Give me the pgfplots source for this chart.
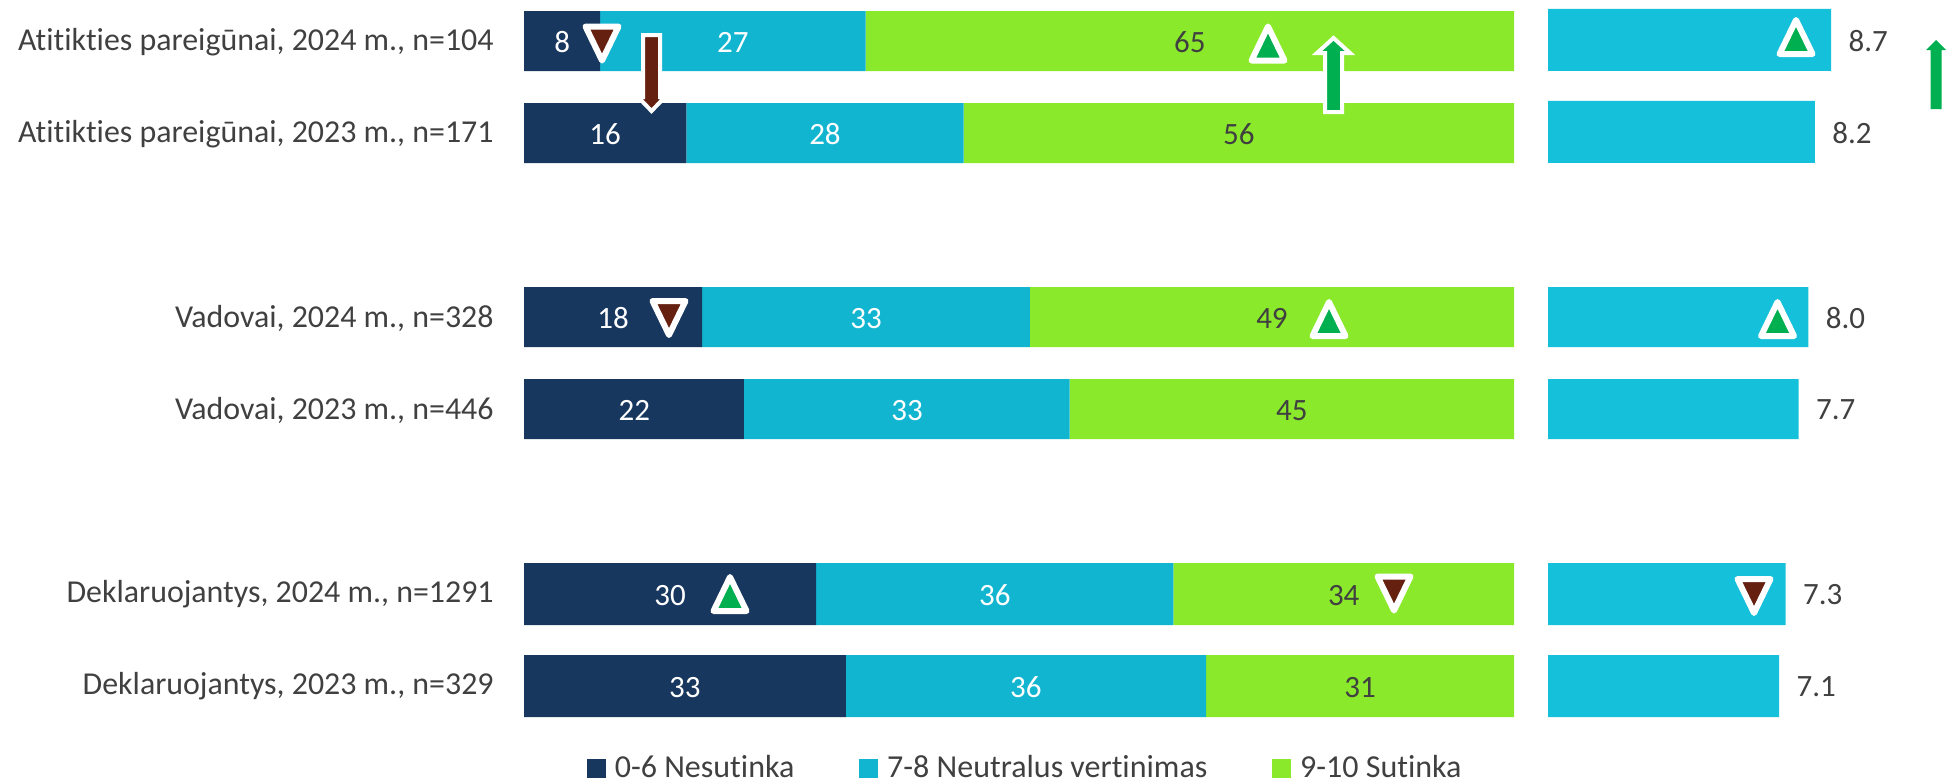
\documentclass[border=0pt]{standalone}
\usepackage{fontspec}
\setmainfont[Ligatures=NoCommon]{Carlito}
\usepackage{pgfplots}
\pgfplotsset{compat=1.18}
\definecolor{navy}{HTML}{17375E}
\definecolor{teal1}{HTML}{12B5D0}
\definecolor{lime}{HTML}{8AE92B}
\definecolor{teal2}{HTML}{15C0DA}
\definecolor{txt}{HTML}{404040}
\definecolor{brownm}{HTML}{66200F}
\definecolor{greenm}{HTML}{00B050}
\pgfdeclareplotmark{triup}{\pgfpathmoveto{\pgfqpoint{0pt}{8.5pt}}\pgfpathlineto{\pgfqpoint{8.25pt}{-8.5pt}}\pgfpathlineto{\pgfqpoint{-8.25pt}{-8.5pt}}\pgfpathclose\pgfusepathqfillstroke}
\pgfdeclareplotmark{tridn}{\pgfpathmoveto{\pgfqpoint{0pt}{-8.5pt}}\pgfpathlineto{\pgfqpoint{8.25pt}{8.5pt}}\pgfpathlineto{\pgfqpoint{-8.25pt}{8.5pt}}\pgfpathclose\pgfusepathqfillstroke}
\pgfplotsset{
  base/.style={scale only axis, clip=false, axis line style={draw=none}, tick style={draw=none},
    font=\fontsize{15.5}{18}\selectfont, anchor=south west},
}
\begin{document}
\begin{tikzpicture}[x=1pt,y=1pt]
\useasboundingbox (0,0) rectangle (973,389);
% left stacked bars: 524..1514 px, upper groups
\begin{axis}[base, at={(262pt,0pt)}, width=495pt, height=389pt,
  xmin=0, xmax=100, ymin=-0.4457, ymax=8.011, y dir=reverse,
  xbar stacked, bar width=30pt, xtick=\empty,
  ytick={0,1,3,4,6,7},
  yticklabels={{Atitikties pareigūnai, 2024 m., n=104},{Atitikties pareigūnai, 2023 m., n=171},{Vadovai, 2024 m., n=328},{Vadovai, 2023 m., n=446},{Deklaruojantys, 2024 m., n=1291},{Deklaruojantys, 2023 m., n=329}},
  yticklabel style={text=txt, anchor=east, inner sep=0pt, xshift=-15pt, yshift=-0.5pt, font=\fontsize{15.95}{18}\selectfont},
  major tick length=0pt]
\addplot[draw=none, fill=navy] coordinates {(7.7,0) (16.4,1) (18.0,3) (22.2,4)};
\addplot[draw=none, fill=teal1] coordinates {(26.8,0) (28.0,1) (33.1,3) (32.9,4)};
\addplot[draw=none, fill=lime] coordinates {(65.5,0) (55.6,1) (48.9,3) (44.9,4)};
\end{axis}
% left stacked bars, lower group
\begin{axis}[base, at={(262pt,0pt)}, width=495pt, height=389pt,
  xmin=0, xmax=100, ymin=-0.4457, ymax=8.011, y dir=reverse, axis lines=none,
  xbar stacked, bar width=31pt]
\addplot[draw=none, fill=navy] coordinates {(29.5,6.011) (32.5,7.011)};
\addplot[draw=none, fill=teal1] coordinates {(36.1,6.011) (36.4,7.011)};
\addplot[draw=none, fill=lime] coordinates {(34.4,6.011) (31.1,7.011)};
\end{axis}
% data labels
\begin{axis}[base, at={(262pt,0pt)}, width=495pt, height=389pt,
  xmin=0, xmax=100, ymin=-0.4457, ymax=8.011, y dir=reverse, axis lines=none]
\addplot[draw=none, mark=none, point meta=explicit symbolic, nodes near coords, every node near coord/.style={anchor=center, text=white, inner sep=0pt, yshift=-0.6pt}]
 table[meta=l] {
x y l
3.85 0 8
21.1 0 27
8.2 1 16
30.4 1 28
9 3 18
34.55 3 33
11.15 4 22
38.7 4 33
14.75 6.011 30
47.55 6.011 36
16.25 7.011 33
50.7 7.011 36
};
\addplot[draw=none, mark=none, point meta=explicit symbolic, nodes near coords, every node near coord/.style={anchor=center, text=txt, inner sep=0pt, yshift=-0.6pt}]
 table[meta=l] {
x y l
67.25 0 65
72.2 1 56
75.55 3 49
77.55 4 45
82.8 6.011 34
84.45 7.011 31
};
\end{axis}
% right bars: 0..10 = 325.5 px from 1548
\begin{axis}[base, at={(774pt,0pt)}, width=162.75pt, height=389pt,
  xmin=0, xmax=10, ymin=-0.4457, ymax=8.011, y dir=reverse,
  xbar, xtick=\empty, ytick=\empty,
  nodes near coords, point meta=x,
  /pgf/number format/.cd, fixed, fixed zerofill, precision=1, assume math mode=true, /pgfplots/.cd,
  every node near coord/.style={anchor=west, text=txt, inner sep=0pt, xshift=8.5pt, yshift=-0.3pt}]
\addplot[draw=none, fill=teal2, bar shift=0pt, bar width=31pt] coordinates {(8.7,-0.011) (8.2,0.989) (7.3,6.011) (7.1,7.011)};
\addplot[draw=none, fill=teal2, bar shift=0pt, bar width=30pt] coordinates {(8.0,3) (7.7,4)};
\end{axis}
% overlay: markers, arrows, legend (pixel-scaled axis)
\begin{axis}[base, at={(0pt,0pt)}, width=973pt, height=389pt,
  xmin=0, xmax=1946, ymin=0, ymax=778, y dir=reverse, axis lines=none,
  legend columns=3,
  legend cell align=left,
  legend style={at={(axis cs:587,768)}, anchor=west, draw=none, fill=none, inner sep=0pt, outer sep=0pt,
    font=\fontsize{16}{18}\selectfont, text=txt,
    /tikz/every even column/.append style={column sep=28pt},
    nodes={inner xsep=4.5pt, inner ysep=0pt}}]
\addplot[only marks, mark=triup, mark options={fill=greenm, draw=white, line width=3pt, line join=round}, forget plot]
 coordinates {(1268,43.5) (1796,37) (1329,319) (1777.5,319) (730,594)};
\addplot[only marks, mark=tridn, mark options={fill=brownm, draw=white, line width=3pt, line join=round}, forget plot]
 coordinates {(602,43.5) (669,318) (1394,593.5) (1754,596)};
\addplot[fill=brownm, draw=white, line width=2pt, forget plot] coordinates {(643,35) (660,35) (660,97) (665,97) (651.5,111) (638,97) (643,97)} --cycle;
\addplot[fill=greenm, draw=white, line width=2pt, forget plot] coordinates {(1333.5,38) (1350,53) (1342,53) (1342,112) (1325,112) (1325,53) (1317,53)} --cycle;
\addplot[fill=greenm, draw=none, forget plot] coordinates {(1936,40) (1946,50) (1941.5,50) (1941.5,109) (1930.5,109) (1930.5,50) (1926,50)} --cycle;
\addlegendimage{legend image code/.code={\fill[navy] (0pt,-4.5pt) rectangle (9pt,4.5pt);}}
\addlegendentry{0-6 Nesutinka}
\addlegendimage{legend image code/.code={\fill[teal1] (0pt,-4.5pt) rectangle (9pt,4.5pt);}}
\addlegendentry{7-8 Neutralus vertinimas}
\addlegendimage{legend image code/.code={\fill[lime] (0pt,-4.5pt) rectangle (9pt,4.5pt);}}
\addlegendentry{9-10 Sutinka}
\end{axis}
\end{tikzpicture}
\end{document}
